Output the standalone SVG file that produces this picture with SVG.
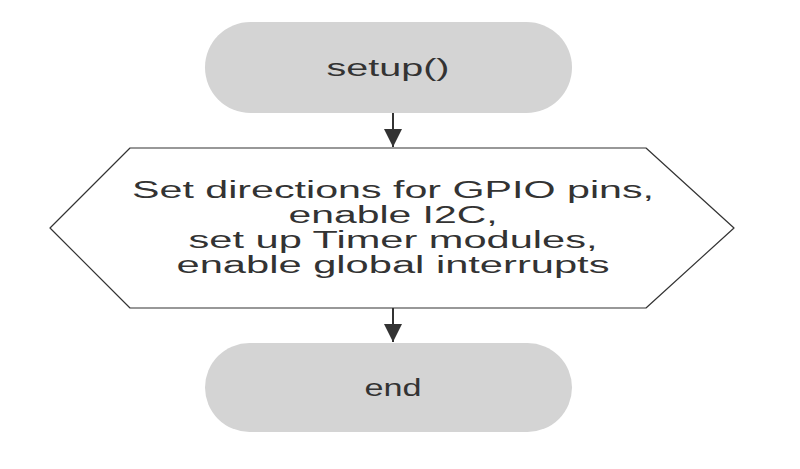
<svg xmlns="http://www.w3.org/2000/svg" width="800" height="469" viewBox="0 0 800 469">
<style>
.pill{fill:#d4d4d4;stroke:none}
.t{font-family:"Liberation Sans",Arial,sans-serif;font-size:23px;fill:#333;text-anchor:middle}
.c{stroke:#333;stroke-width:2;fill:none}
</style>
<defs><marker id="a" markerWidth="18" markerHeight="18" refX="16" refY="8" orient="auto" markerUnits="userSpaceOnUse" viewBox="0 0 16 16"><path d="M0,0L16,8L0,16z" fill="#333"/></marker></defs>
<rect width="800" height="469" fill="#fff"/>
<g id="setup"><rect class="pill" x="205" y="22" width="367" height="91" rx="45.5"/><text class="t" x="388" y="76" textLength="123" lengthAdjust="spacingAndGlyphs">setup()</text></g>
<g id="init"><path d="M130,148L646,148L734,228L646,308L130,308L50,228Z" fill="#fff" stroke="#333" stroke-width="1.2" stroke-linejoin="round"/>
<text class="t" x="393" y="198" textLength="522" lengthAdjust="spacingAndGlyphs">Set directions for GPIO pins,</text>
<text class="t" x="393" y="223" textLength="209" lengthAdjust="spacingAndGlyphs">enable I2C,</text>
<text class="t" x="393" y="248" textLength="409" lengthAdjust="spacingAndGlyphs">set up Timer modules,</text>
<text class="t" x="393" y="273" textLength="433" lengthAdjust="spacingAndGlyphs">enable global interrupts</text></g>
<g id="end"><rect class="pill" x="205" y="343" width="367" height="89" rx="44.5"/><text class="t" x="393" y="396" textLength="57" lengthAdjust="spacingAndGlyphs">end</text></g>
<g id="connectors"><path class="c" d="M393,113L393,147" marker-end="url(#a)"/><path class="c" d="M393,308L393,342" marker-end="url(#a)"/></g>
</svg>
